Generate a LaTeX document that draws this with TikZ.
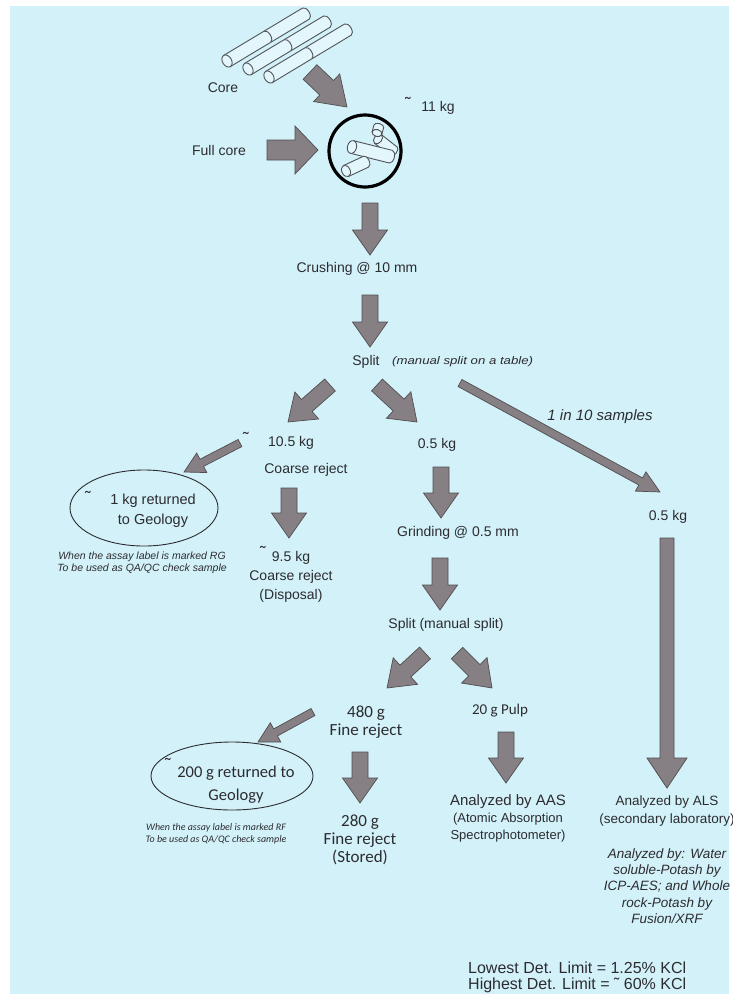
\documentclass[tikz,border=0pt]{standalone}
\usepackage{fontspec}
\setmainfont{Liberation Sans}
\newfontfamily\calfont{Carlito}
\usetikzlibrary{calc,shapes.geometric}

\definecolor{paper}{RGB}{211,241,249}
\definecolor{arrfill}{RGB}{134,128,132}
\definecolor{arrline}{RGB}{80,78,80}
\definecolor{ink}{RGB}{44,44,48}
\definecolor{tubeink}{RGB}{80,84,88}
\definecolor{tubefill}{RGB}{226,246,251}

% block arrow from #1 (tail) to #2 (tip): shaft half width, head half width, head length
\newcommand{\blockarr}[5]{%
  \path[draw=arrline, fill=arrfill, line width=0.7pt, line join=miter]
    let \p1=($(#2)-(#1)$), \n1={atan2(\y1,\x1)}, \n2={veclen(\x1,\y1)} in
    [shift={(#1)}, rotate=\n1]
    (0,-#3) -- (\n2-#5,-#3) -- (\n2-#5,-#4) -- (\n2,0) -- (\n2-#5,#4)
    -- (\n2-#5,#3) -- (0,#3) -- cycle;}

% a piece of drill core: x, y, angle, length, radius, joint position (0 = none)
\newcommand{\coretube}[6]{%
  \begin{scope}[shift={(#1,#2)}, rotate=#3]
    \filldraw[tube] (0,-#5) -- (#4,-#5)
      arc[start angle=-90, end angle=90, x radius=0.55*#5, y radius=#5]
      -- (0,#5) -- cycle;
    \ifdim #6pt>0pt
      \draw[tube] (#6,-#5) arc[start angle=-90, end angle=90, x radius=0.55*#5, y radius=#5];
    \fi
    \filldraw[tube] (0,0) ellipse[x radius=0.7*#5, y radius=#5];
  \end{scope}}

\begin{document}
\begin{tikzpicture}[x=1pt, y=-1pt,
  tube/.style={draw=tubeink, fill=tubefill, line width=0.9pt},
  lbl/.style={text=ink, inner sep=0pt, align=center, font=\fontsize{14}{19}\selectfont},
  cal/.style={text=ink, inner sep=0pt, align=center, font=\calfont\fontsize{17}{18}\selectfont},
  note/.style={text=ink, inner sep=0pt, align=center, font=\itshape\fontsize{10.5}{11.5}\selectfont},
  calnote/.style={text=ink, inner sep=0pt, align=center, font=\calfont\itshape\fontsize{10}{12}\selectfont},
  tmark/.style={text=ink, inner sep=0pt, anchor=base, font=\fontsize{17}{17}\selectfont},
  oval/.style={draw=ink, line width=0.9pt, ellipse, inner sep=0pt}]

\useasboundingbox (0,0) rectangle (733,994);
\fill[white] (0,0) rectangle (733,994);
\fill[paper] (10,6) rectangle (729,994);

% ---- core sticks
\coretube{227}{61}{31}{92}{6.5}{47}
\coretube{248}{69}{31}{92}{6.5}{46}
\coretube{269}{77}{31}{92}{6.5}{46}
\node[lbl] (core) at (223,88) {Core};

% ---- crusher
\node[circle, draw=black, line width=3.2pt, minimum size=72pt, inner sep=0pt] (crusher) at (365,151) {};
\coretube{378}{139}{-38}{20}{5.5}{0}
\coretube{377}{133}{75}{7}{5}{0}
\coretube{352}{147}{-14}{40}{6.5}{0}
\coretube{346}{171}{25}{22}{6}{0}

\node[lbl] (fullcore) at (219,150) {Full core};
\node[tmark] (m11) at (408,109) {˜};
\node[lbl] (kg11) at (438,108) {11 kg};

\node[lbl] (crush) at (357,269) {Crushing @ 10 mm};
\node[lbl] (split1) at (366,362) {Split};
\node[note, anchor=west, font=\itshape\fontsize{11}{12}\selectfont] (split1n) at (392,362) {\scalebox{1.2}[1]{(manual split on a table)}};

% ---- coarse branch
\node[tmark] (m105) at (246,444) {˜};
\node[lbl] (kg105) at (291,443) {10.5 kg};
\node[lbl] (coarse) at (306,470) {Coarse reject};
\node[oval, minimum width=148pt, minimum height=76pt] (geo1) at (144,508) {};
\node[tmark] (mgeo1) at (88,503) {˜};
\node[lbl, font=\fontsize{14.5}{20}\selectfont] (geo1t) at (153,511) {1 kg returned\\to Geology};
\node[note] (rg) at (142,563) {When the assay label is marked RG\\To be used as QA/QC check sample};
\node[tmark] (m95) at (263,558) {˜};
\node[lbl] (disp) at (291,577) {9.5 kg\\Coarse reject\\(Disposal)};

% ---- pulp branch
\node[lbl] (kg05a) at (437,445) {0.5 kg};
\node[lbl] (grind) at (458,533) {Grinding @ 0.5 mm};
\node[lbl] (split2) at (446,625) {Split (manual split)};
\node[cal] (fine1) at (366,722) {480 g\\Fine reject};
\node[cal, font=\calfont\fontsize{15}{18}\selectfont] (pulp) at (500,711) {20 g Pulp};
\node[oval, minimum width=162pt, minimum height=68pt] (geo2) at (232,776) {};
\node[tmark] (mgeo2) at (168,770) {˜};
\node[cal, font=\calfont\fontsize{16.5}{23}\selectfont] (geo2t) at (236,785) {200 g returned to\\Geology};
\node[calnote] (rf) at (216,834) {When the assay label is marked RF\\To be used as QA/QC check sample};
\node[cal] (fine2) at (360,840) {280 g\\Fine reject\\(Stored)};
\node[lbl, font=\fontsize{13}{17}\selectfont] (aas) at (508,818)
  {{\fontsize{15}{17}\selectfont Analyzed by AAS}\\(Atomic Absorption\\Spectrophotometer)};

% ---- check-sample branch
\node[lbl, font=\itshape\fontsize{15}{17}\selectfont] (ten) at (600,417) {1 in 10 samples};
\node[lbl] (kg05b) at (668,517) {0.5 kg};
\node[lbl, font=\fontsize{13.5}{18}\selectfont] (als) at (667,811) {Analyzed by ALS\\(secondary laboratory)};
\node[lbl, font=\itshape\fontsize{13.5}{16.25}\selectfont] (alsn) at (667,886)
  {Analyzed by: Water\\soluble-Potash by\\ICP-AES; and Whole\\rock-Potash by\\Fusion/XRF};
\node[lbl, anchor=west, align=left, font=\fontsize{16}{16}\selectfont] (limits) at (468,977)
  {Lowest Det. Limit = 1.25\% KCl\\Highest Det. Limit = ˜ 60\% KCl};

% ---- arrow end points
\coordinate (a1s) at (310,72);  \coordinate (a1e) at (347,107);
\coordinate (a2s) at (267,150); \coordinate (a2e) at (318,150);
\coordinate (a3s) at (370,203); \coordinate (a3e) at (370,255);
\coordinate (a4s) at (370,295); \coordinate (a4e) at (370,347);
\coordinate (a5s) at (330,385); \coordinate (a5e) at (288,422);
\coordinate (a6s) at (377,385); \coordinate (a6e) at (417,422);
\coordinate (a7s) at (460,383); \coordinate (a7e) at (660,492);
\coordinate (a8s) at (240,443); \coordinate (a8e) at (184,472);
\coordinate (a9s) at (289,488); \coordinate (a9e) at (289,538);
\coordinate (a10s) at (441,467); \coordinate (a10e) at (441,518);
\coordinate (a11s) at (440,558); \coordinate (a11e) at (440,610);
\coordinate (a12s) at (425,653); \coordinate (a12e) at (387,688);
\coordinate (a13s) at (457,653); \coordinate (a13e) at (492,688);
\coordinate (a14s) at (313,712); \coordinate (a14e) at (258,742);
\coordinate (a15s) at (360,752); \coordinate (a15e) at (360,803);
\coordinate (a16s) at (506,732); \coordinate (a16e) at (506,783);
\coordinate (a17s) at (667,538); \coordinate (a17e) at (667,788);

% ---- arrows
\blockarr{a1s}{a1e}{10}{19}{28}
\blockarr{a2s}{a2e}{10}{24}{23}
\blockarr{a3s}{a3e}{8}{17.5}{25}
\blockarr{a4s}{a4e}{8}{17.5}{25}
\blockarr{a5s}{a5e}{8}{18}{25}
\blockarr{a6s}{a6e}{8}{18}{25}
\blockarr{a7s}{a7e}{4}{11}{22}
\blockarr{a8s}{a8e}{4}{11}{20}
\blockarr{a9s}{a9e}{8}{17.5}{25}
\blockarr{a10s}{a10e}{8}{17.5}{25}
\blockarr{a11s}{a11e}{8}{17.5}{25}
\blockarr{a12s}{a12e}{8}{18}{25}
\blockarr{a13s}{a13e}{8}{18}{25}
\blockarr{a14s}{a14e}{4}{11}{20}
\blockarr{a15s}{a15e}{8}{17.5}{25}
\blockarr{a16s}{a16e}{8}{17.5}{25}
\blockarr{a17s}{a17e}{7}{20}{30}
\end{tikzpicture}
\end{document}
